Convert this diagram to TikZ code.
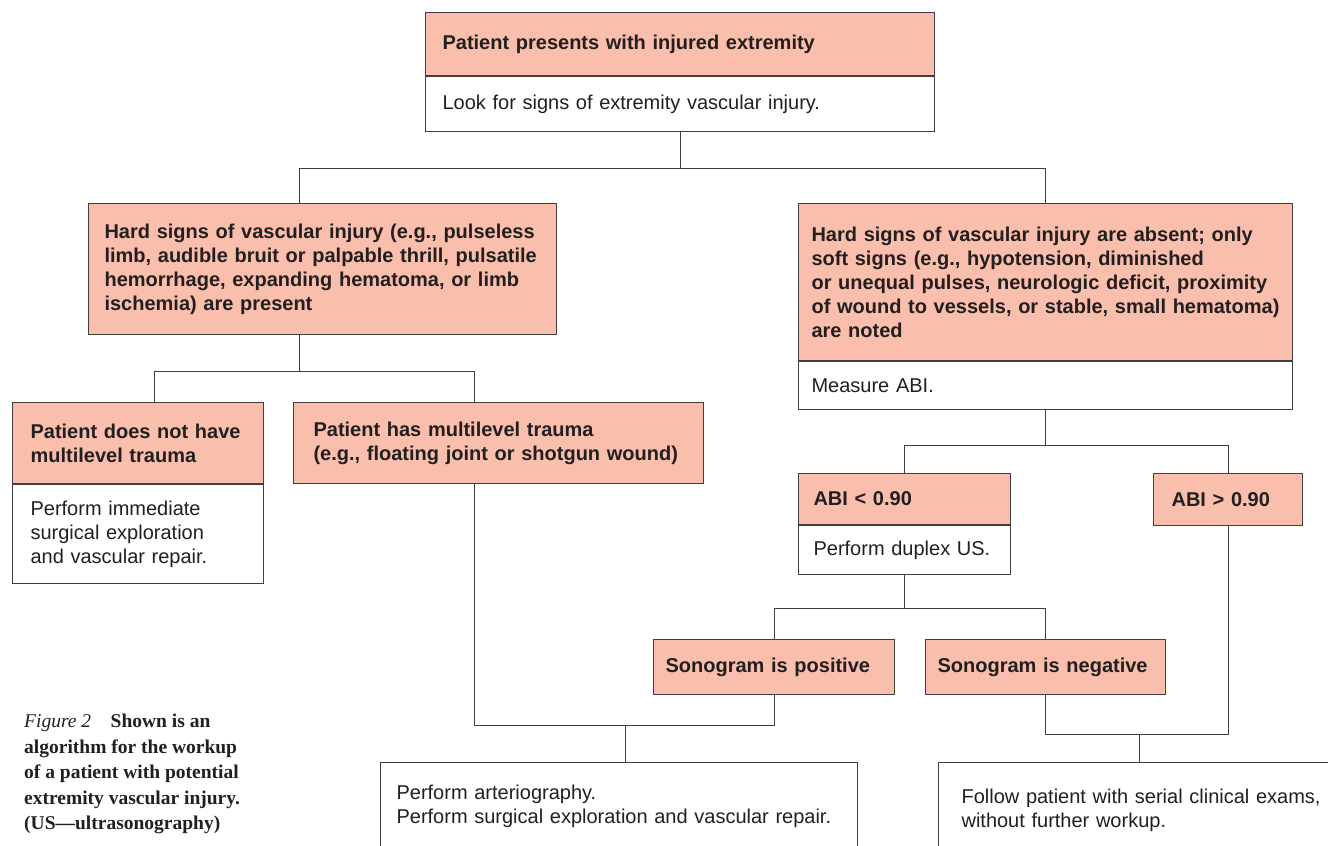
\documentclass[tikz,border=0pt]{standalone}
\usepackage{fontspec}
\setmainfont{Liberation Serif}
\setsansfont{Liberation Sans}
\usetikzlibrary{positioning}

\definecolor{boxpink}{RGB}{249,190,172}
\definecolor{boxline}{RGB}{64,62,62}
\definecolor{ink}{RGB}{35,31,32}

\begin{document}
\begin{tikzpicture}[x=1pt,y=-1pt,
headnode/.style={rectangle, draw=boxline, fill=boxpink, line width=1.1pt, text=ink, font=\sffamily\bfseries\fontsize{20}{24}\selectfont, align=left, inner ysep=0pt, anchor=north west},
bodynode/.style={rectangle, draw=boxline, fill=white, line width=1.1pt, text=ink, font=\sffamily\fontsize{20}{24}\selectfont, align=left, inner ysep=0pt},
capnode/.style={anchor=north west, align=left, inner sep=0pt, text=ink, font=\bfseries\fontsize{19.5}{25.5}\selectfont},
edge/.style={draw=boxline, line width=1.1pt}
]
\clip (0,0) rectangle (1328,846);

%Nodes
\node[headnode, text width=475pt, inner xsep=17pt, minimum height=63pt] (top) at (425,12) {Patient presents with injured extremity};
\node[bodynode, text width=475pt, inner xsep=17pt, minimum height=55pt, below=0pt of top] (topbody) {Look for signs of extremity vascular injury.};

\node[headnode, text width=436pt, inner xsep=16pt, minimum height=131pt] (hard) at (88,203) {Hard signs of vascular injury (e.g., pulseless\\limb, audible bruit or palpable thrill, pulsatile\\hemorrhage, expanding hematoma, or limb\\ischemia) are present};

\node[headnode, text width=468pt, inner xsep=13pt, minimum height=157pt] (soft) at (798,203) {Hard signs of vascular injury are absent; only\\soft signs (e.g., hypotension, diminished\\or unequal pulses, neurologic deficit, proximity\\of wound to vessels, or stable, small hematoma)\\are noted};
\node[bodynode, text width=468pt, inner xsep=13pt, minimum height=48pt, below=0pt of soft] (softbody) {Measure ABI.};

\node[headnode, text width=215pt, inner xsep=18pt, minimum height=81pt] (nomulti) at (12,402) {Patient does not have\\multilevel trauma};
\node[bodynode, text width=215pt, inner xsep=18pt, minimum height=99pt, below=0pt of nomulti] (nomultibody) {Perform immediate\\surgical exploration\\and vascular repair.};

\node[headnode, text width=370pt, inner xsep=20pt, minimum height=81pt] (multi) at (293,402) {Patient has multilevel trauma\\(e.g., floating joint or shotgun wound)};

\node[headnode, text width=182pt, inner xsep=15pt, minimum height=51pt] (abilow) at (798,473) {ABI < 0.90};
\node[bodynode, text width=182pt, inner xsep=15pt, minimum height=49pt, below=0pt of abilow] (abilowbody) {Perform duplex US.};

\node[headnode, text width=113pt, inner xsep=18pt, minimum height=52pt] (abihigh) at (1153,473) {ABI > 0.90};

\node[headnode, text width=217pt, inner xsep=12pt, minimum height=55pt] (pos) at (653,639) {Sonogram is positive};
\node[headnode, text width=216pt, inner xsep=12pt, minimum height=55pt] (neg) at (925,639) {Sonogram is negative};

\node[bodynode, anchor=north west, text width=445pt, inner xsep=16pt, minimum height=88pt] (arterio) at (380,762) {Perform arteriography.\\Perform surgical exploration and vascular repair.};
\node[bodynode, anchor=north west, text width=376pt, inner xsep=23pt, minimum height=95pt] (follow) at (938,762) {Follow patient with serial clinical exams,\\without further workup.};

\node[capnode] (caption) at (24,714) {{\mdseries\itshape Figure 2}\quad Shown is an\\algorithm for the workup\\of a patient with potential\\extremity vascular injury.\\(US---ultrasonography)};

%Edges
\coordinate (hardin) at ([xshift=-23pt]hard.north);
\draw[edge] (topbody.south) -- ++(0,36) -| (hardin);
\draw[edge] (topbody.south) ++(0,36) -| (soft.north);
\draw[edge] (hardin |- hard.south) -- ++(0,36) -| ([xshift=16pt]nomulti.north);
\draw[edge] (hardin |- hard.south) ++(0,36) -| ([xshift=-24pt]multi.north);
\draw[edge] (softbody.south) -- ++(0,35) -| (abilow.north);
\draw[edge] (softbody.south) ++(0,35) -| (abihigh.north);
\draw[edge] (abilowbody.south) -- ++(0,33) -| (pos.north);
\draw[edge] (abilowbody.south) ++(0,33) -| (neg.north);
\draw[edge] (pos.south) -- ++(0,30) coordinate (posjoin) -| ([xshift=-24pt]multi.south);
\draw[edge] ([xshift=6pt]arterio.north) -- ([xshift=6pt]arterio.north |- posjoin);
\draw[edge] (neg.south) -- ++(0,39) coordinate (negjoin) -| (abihigh.south);
\draw[edge] ([xshift=-10pt]follow.north) -- ([xshift=-10pt]follow.north |- negjoin);

\end{tikzpicture}
\end{document}
